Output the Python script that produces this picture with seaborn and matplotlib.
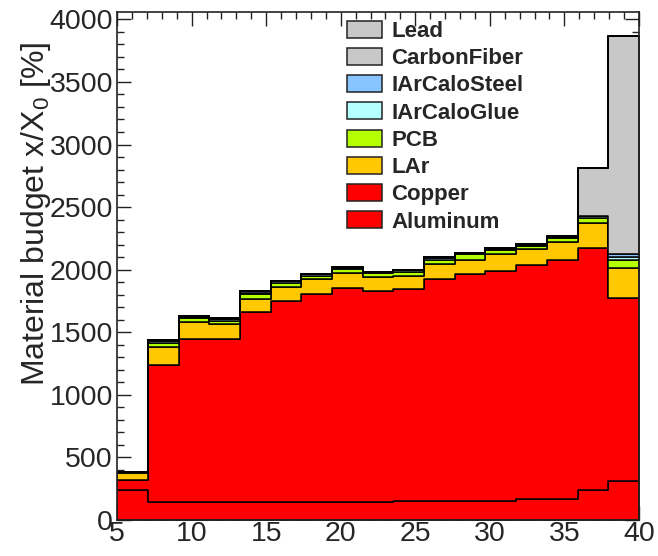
import numpy as np
import pandas as pd
import matplotlib
matplotlib.use("Agg")
import matplotlib.pyplot as plt
from matplotlib.patches import Patch
from matplotlib.ticker import MultipleLocator
import seaborn as sns

# Binning of the scan variable
x_min, x_max, n_bins = 5, 40, 17

# Material contributions per bin, x/X0 in percent
aluminum     = [240, 145, 145, 145, 145, 145, 145, 145, 145, 155, 155, 155, 155, 165, 165, 240, 315]
copper       = [82, 1097, 1304, 1304, 1516, 1601, 1663, 1709, 1686, 1690, 1769, 1812, 1834, 1873, 1915, 1935, 1458]
lar          = [53, 140, 130, 116, 108, 116, 116, 118, 107, 102, 122, 113, 139, 127, 142, 199, 241]
pcb          = [7, 33, 34, 25, 34, 34, 29, 32, 34, 34, 34, 42, 28, 28, 28, 41, 62]
larcalo_glue = [2, 15, 12, 15, 9, 10, 12, 10, 8, 14, 15, 8, 12, 7, 12, 10, 22]
larcalo_steel= [1, 5, 5, 5, 18, 3, 3, 3, 3, 3, 3, 3, 3, 3, 3, 3, 29]
carbon_fiber = [0, 1, 1, 1, 1, 1, 1, 1, 1, 1, 1, 1, 1, 1, 1, 385, 1740]
lead         = [0, 0, 0, 0, 0, 0, 0, 0, 0, 0, 0, 0, 0, 0, 0, 1, 1]

materials = ["Lead", "CarbonFiber", "IArCaloSteel", "IArCaloGlue",
             "PCB", "LAr", "Copper", "Aluminum"]
values = [lead, carbon_fiber, larcalo_steel, larcalo_glue,
          pcb, lar, copper, aluminum]
colors = ["#c8c8c8", "#c8c8c8", "#88c4ff", "#b4ffff",
          "#b4ff00", "#ffc800", "#ff0000", "#ff0000"]

edges = np.linspace(x_min, x_max, n_bins + 1)
centers = 0.5 * (edges[:-1] + edges[1:])

df = pd.DataFrame({
    "x": np.tile(centers, len(materials)),
    "budget": np.concatenate(values).astype(float),
    "material": np.repeat(materials, n_bins),
})

sns.set_theme(style="ticks")
plt.rcParams["font.family"] = ["Liberation Sans", "DejaVu Sans"]
plt.rcParams["mathtext.fontset"] = "custom"
plt.rcParams["mathtext.rm"] = "Liberation Sans"
plt.rcParams["mathtext.it"] = "Liberation Sans"

fig = plt.figure(figsize=(6.58, 5.56), dpi=100)
ax = fig.add_axes([0.178, 0.0647, 0.793, 0.9143])

sns.histplot(
    data=df, x="x", weights="budget", hue="material",
    hue_order=materials, palette=dict(zip(materials, colors)),
    bins=n_bins, binrange=(x_min, x_max), multiple="stack",
    element="step", fill=True, alpha=1, edgecolor="black",
    linewidth=1.1, legend=False, ax=ax,
)

totals = np.sum(np.array(values, dtype=float), axis=0)
ax.set_xlim(x_min, x_max)
ax.set_ylim(0, 1.05 * totals.max())

ax.xaxis.set_major_locator(MultipleLocator(5))
ax.xaxis.set_minor_locator(MultipleLocator(1))
ax.yaxis.set_major_locator(MultipleLocator(500))
ax.yaxis.set_minor_locator(MultipleLocator(100))
ax.tick_params(which="both", direction="in", top=True, right=True,
               color="#222222", width=1.0)
ax.tick_params(which="major", length=10, labelsize=20.5, pad=3)
ax.tick_params(which="minor", length=5)
ax.tick_params(axis="x", which="major", pad=1)
for side in ax.spines.values():
    side.set_linewidth(1.2)
    side.set_color("#222222")

ax.set_xlabel("")
ax.set_ylabel(r"Material budget x/X$_{0}$ [%]", fontsize=23, loc="top")
ax.yaxis.set_label_coords(-0.123, 0.94)

handles = [Patch(facecolor=c, edgecolor="#222222", linewidth=1.1) for c in colors]
ax.legend(handles, materials, loc="upper left", bbox_to_anchor=(0.44, 0.982),
          bbox_transform=ax.transAxes, frameon=False, borderpad=0,
          borderaxespad=0, prop={"weight": "bold", "size": 16},
          handlelength=1.6, handleheight=0.8, labelspacing=0.27,
          handletextpad=0.4)

fig.savefig("out.png", dpi=100)
